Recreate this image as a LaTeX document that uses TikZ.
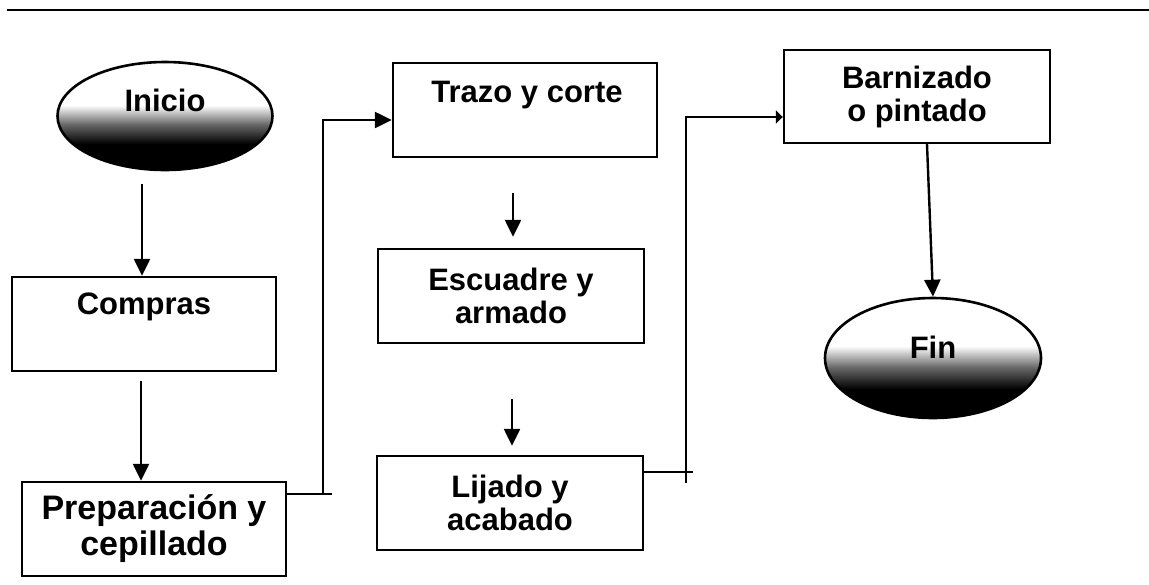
\documentclass[tikz,border=0pt]{standalone}
\usepackage{fontspec}
\setmainfont{Liberation Sans}
\usetikzlibrary{shapes.geometric,arrows.meta,calc}
\pgfdeclareverticalshading{startend}{100bp}{color(0bp)=(black); color(25bp)=(black); color(37bp)=(black); color(46bp)=(black!60); color(55bp)=(white); color(100bp)=(white)}
\begin{document}
\begin{tikzpicture}[x=1pt,y=-1pt,
  txt/.style={font=\fontsize{31}{33}\selectfont\bfseries, align=center},
  stepbox/.style={draw, line width=2.4pt, minimum width=264pt, minimum height=94pt, inner sep=0pt, txt},
  term/.style={ellipse, draw, line width=2.6pt, shade, shading=startend, inner sep=0pt},
  conn/.style={line width=2.4pt},
  arr/.style={conn, -{Triangle[length=17pt,width=16pt]}},
  arrsmall/.style={conn, -{Triangle[length=7pt,width=13pt]}},
  ]
\useasboundingbox (0,0) rectangle (1149,584);
\draw[line width=2.6pt] (7,10) -- (1149,10);

\node[term, minimum width=215pt, minimum height=108pt,
      label={[txt,yshift=16pt]center:Inicio}] (inicio) at (165,116) {};
\node[stepbox, label={[txt,yshift=17pt]center:Compras}] (compras) at (144,324) {};
\node[stepbox, font=\fontsize{34}{36}\selectfont\bfseries] (prep) at (154,529) {Preparación y\\cepillado};
\node[stepbox, label={[txt,yshift=15pt,xshift=2pt]center:Trazo y corte}] (trazo) at (525,110) {};
\node[stepbox, minimum width=266pt] (escuadre) at (511,296) {Escuadre y\\armado};
\node[stepbox, minimum width=266pt] (lijado) at (510,503) {Lijado y\\acabado};
\node[stepbox, minimum width=266pt, minimum height=93pt] (barn) at (917,96.5) {Barnizado\\o pintado};
\node[term, minimum width=216pt, minimum height=120pt,
      label={[txt,yshift=11pt]center:Fin}] (fin) at (933,358) {};

% Inicio -> Compras
\draw[arr] ($(inicio.south -| compras.north)+(-2,13)$) -- ($(compras.north)+(-2,0)$);
% Compras -> Preparacion
\path ($(compras.south)+(-3,9)$) coordinate (a2);
\draw[arr] (a2) -- (a2 |- prep.north);
% Preparacion -> Trazo
\path ($(prep.north east)+(0,13)$) coordinate (p1);
\coordinate (k1) at (323,120);
\draw[conn] (p1) -- ++(45,0);
\draw[arr] (k1 |- p1) -- (k1) -- (k1 -| trazo.west);
% Trazo -> Escuadre
\draw[arr] ($(trazo.south)+(-12,35)$) -- ($(escuadre.north)+(2,-11)$);
% Escuadre -> Lijado
\draw[arr] ($(escuadre.south)+(1,55)$) -- ($(lijado.north)+(2,-9)$);
% Lijado -> Barnizado
\path ($(lijado.north east)+(0,17)$) coordinate (l1);
\coordinate (k2) at (686,117);
\draw[conn] (l1) -- ++(49,0);
\draw[arrsmall] ($(k2 |- l1)+(0,11)$) -- (k2) -- (k2 -| barn.west);
% Barnizado -> Fin
\draw[arr] ($(barn.south)+(10,0)$) -- (fin.north);
\end{tikzpicture}
\end{document}
